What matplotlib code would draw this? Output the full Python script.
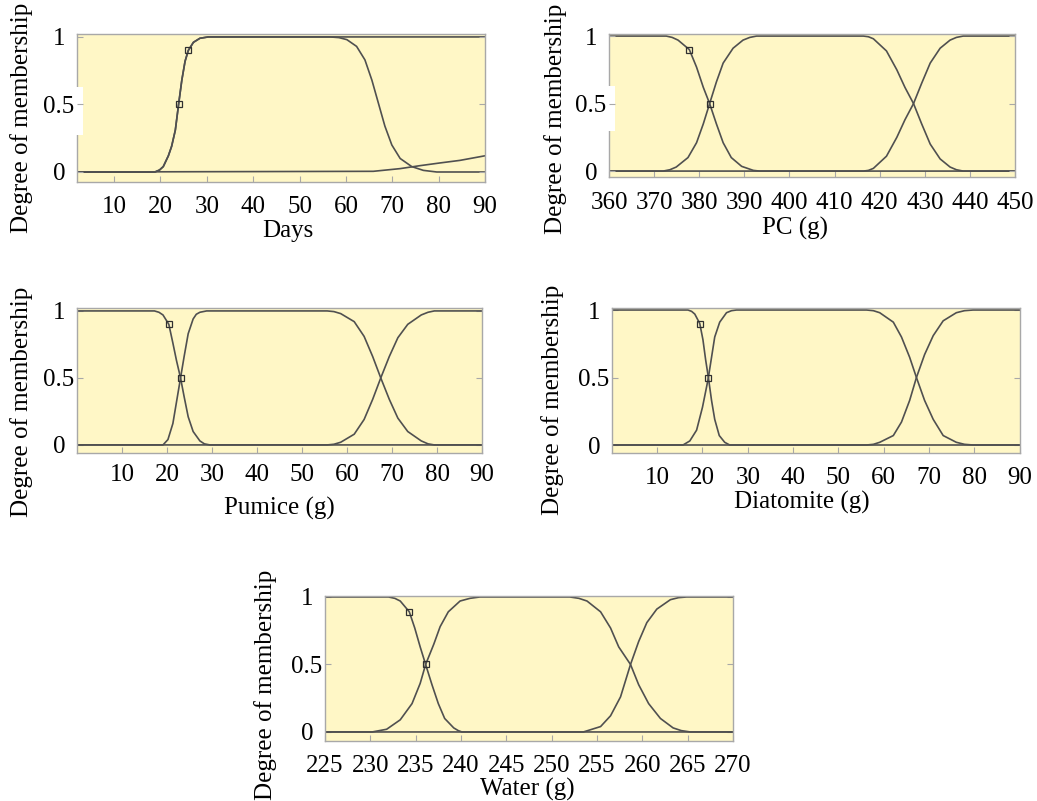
import matplotlib
matplotlib.use('Agg')
import matplotlib.pyplot as plt
from matplotlib.patches import Rectangle

plt.rcParams['font.family'] = ['Liberation Serif', 'DejaVu Serif']
plt.rcParams['font.size'] = 18

# ---- data (membership curves) ----
days_mf1_x = [2, 18.8, 19.8, 20.6, 21.7, 22.4, 23.2, 23.9, 24.6, 25.3, 26.0, 27.1, 28.5, 30.3, 90]
days_mf1_y = [0, 0, 0.015, 0.04, 0.12, 0.19, 0.31, 0.5, 0.68, 0.82, 0.9, 0.96, 0.99, 1, 1]
days_mf2_x = [2, 18.8, 19.8, 20.6, 21.7, 22.4, 23.2, 23.9, 24.6, 25.3, 26.0, 27.1, 28.5, 30.3,
              56.6, 58.5, 60.2, 62.3, 64.1, 65.6, 67.0, 68.4, 69.9, 71.7, 74.2, 76.7, 79.6, 90]
days_mf2_y = [0, 0, 0.015, 0.04, 0.12, 0.19, 0.31, 0.5, 0.68, 0.82, 0.9, 0.96, 0.99, 1,
              1, 0.995, 0.98, 0.93, 0.83, 0.68, 0.51, 0.34, 0.20, 0.10, 0.04, 0.012, 0, 0]
days_mf3_x = [2, 65.9, 71.7, 76.0, 80.3, 84.6, 90]
days_mf3_y = [0, 0.005, 0.025, 0.047, 0.067, 0.086, 0.12]
days_marks_x = [23.9, 26.0]
days_marks_y = [0.5, 0.9]

pc_mf1_x = [360, 372.7, 374.0, 375.3, 377.8, 379.4, 380.9, 382.3, 383.8, 385.3, 387.1, 389.4, 392.0, 393.4, 450]
pc_mf1_y = [1, 1, 0.99, 0.97, 0.9, 0.77, 0.62, 0.5, 0.35, 0.21, 0.10, 0.035, 0.005, 0, 0]
pc_mf2_x = [360, 372.0, 373.5, 374.9, 377.5, 379.4, 380.9, 382.3, 383.8, 385.3, 387.5, 389.7, 391.2, 392.7,
            416.4, 417.5, 418.6, 421.5, 423.8, 425.6, 427.5, 429.3, 431.2, 433.4, 435.6, 437.0, 438.5, 450]
pc_mf2_y = [0, 0, 0.01, 0.03, 0.10, 0.21, 0.35, 0.5, 0.66, 0.80, 0.91, 0.97, 0.99, 1,
            1, 0.995, 0.98, 0.89, 0.75, 0.62, 0.5, 0.35, 0.20, 0.09, 0.03, 0.01, 0, 0]
pc_mf3_x = [360, 416.4, 417.5, 418.6, 421.5, 423.8, 425.6, 427.5, 429.3, 431.2, 433.4, 435.6, 437.0, 438.5, 450]
pc_mf3_y = [0, 0, 0.005, 0.02, 0.11, 0.25, 0.38, 0.5, 0.65, 0.80, 0.91, 0.97, 0.99, 1, 1]
pc_marks_x = [377.8, 382.3]
pc_marks_y = [0.9, 0.5]

pum_mf1_x = [0, 17.2, 18.2, 19.1, 20.4, 21.3, 22.1, 23.0, 23.8, 24.7, 25.8, 27.3, 28.3, 29.5, 90]
pum_mf1_y = [1, 1, 0.99, 0.97, 0.9, 0.76, 0.63, 0.5, 0.36, 0.21, 0.10, 0.03, 0.008, 0, 0]
pum_mf2_x = [0, 19.1, 20.2, 21.3, 22.3, 23.0, 23.8, 24.7, 25.8, 26.5, 27.3, 28.8,
             55.6, 57.1, 58.6, 61.6, 63.8, 65.7, 67.5, 69.4, 71.3, 73.5, 76.5, 78.0, 79.4, 90]
pum_mf2_y = [0, 0, 0.04, 0.16, 0.36, 0.5, 0.66, 0.83, 0.94, 0.975, 0.99, 1,
             1, 0.995, 0.98, 0.92, 0.81, 0.66, 0.5, 0.34, 0.20, 0.10, 0.03, 0.008, 0, 0]
pum_mf3_x = [0, 55.6, 57.1, 58.6, 61.6, 63.8, 65.7, 67.5, 69.4, 71.3, 73.5, 76.5, 78.0, 79.4, 90]
pum_mf3_y = [0, 0, 0.005, 0.02, 0.08, 0.19, 0.34, 0.5, 0.66, 0.80, 0.90, 0.97, 0.99, 1, 1]
pum_marks_x = [20.4, 23.0]
pum_marks_y = [0.9, 0.5]

dia_mf1_x = [0, 16.8, 17.6, 18.3, 19.4, 20.1, 20.7, 21.3, 22.0, 22.7, 23.7, 24.9, 26.0, 90]
dia_mf1_y = [1, 1, 0.99, 0.97, 0.9, 0.78, 0.63, 0.5, 0.33, 0.19, 0.07, 0.02, 0, 0]
dia_mf2_x = [0, 15.7, 17.2, 18.7, 20.0, 20.9, 21.3, 22.0, 22.7, 23.8, 25.3, 26.4, 27.5,
             56.2, 57.7, 59.1, 62.1, 63.9, 65.7, 67.2, 69.0, 70.9, 73.1, 76.0, 77.8, 79.7, 90]
dia_mf2_y = [0, 0, 0.03, 0.11, 0.28, 0.43, 0.5, 0.65, 0.80, 0.91, 0.98, 0.995, 1,
             1, 0.995, 0.98, 0.91, 0.80, 0.65, 0.5, 0.33, 0.19, 0.07, 0.02, 0.005, 0, 0]
dia_mf3_x = [0, 56.2, 57.7, 59.1, 62.1, 63.9, 65.7, 67.2, 69.0, 70.9, 73.1, 76.0, 77.8, 79.7, 90]
dia_mf3_y = [0, 0, 0.005, 0.02, 0.07, 0.17, 0.33, 0.5, 0.67, 0.81, 0.92, 0.98, 0.995, 1, 1]
dia_marks_x = [19.4, 21.3]
dia_marks_y = [0.9, 0.5]

wat_mf1_x = [225, 232.0, 232.7, 233.3, 234.3, 234.9, 235.5, 236.1, 236.8, 237.5, 238.2, 239.2, 239.7, 240.1, 270]
wat_mf1_y = [1, 1, 0.99, 0.97, 0.89, 0.77, 0.63, 0.5, 0.35, 0.21, 0.10, 0.03, 0.01, 0, 0]
wat_mf2_x = [225, 230.2, 231.8, 233.3, 234.6, 235.5, 236.1, 237.0, 237.7, 238.6, 239.9, 241.0, 242.1,
             252.0, 253.0, 253.9, 255.4, 256.5, 257.4, 258.7, 259.6, 260.7, 262.0, 263.4, 264.3, 265.3, 270]
wat_mf2_y = [0, 0, 0.02, 0.09, 0.21, 0.36, 0.5, 0.65, 0.78, 0.89, 0.97, 0.99, 1,
             1, 0.99, 0.97, 0.89, 0.77, 0.63, 0.5, 0.35, 0.21, 0.10, 0.03, 0.01, 0, 0]
wat_mf3_x = [225, 253.5, 255.4, 256.5, 257.6, 258.7, 259.6, 260.5, 261.6, 263.1, 264.0, 264.9, 270]
wat_mf3_y = [0, 0, 0.04, 0.12, 0.26, 0.5, 0.67, 0.81, 0.91, 0.98, 0.995, 1, 1]
wat_marks_x = [234.3, 236.1]
wat_marks_y = [0.89, 0.5]

days_ticks = [10, 20, 30, 40, 50, 60, 70, 80, 90]
pc_ticks = [360, 370, 380, 390, 400, 410, 420, 430, 440, 450]
gram_ticks = [10, 20, 30, 40, 50, 60, 70, 80, 90]
wat_ticks = [225, 230, 235, 240, 245, 250, 255, 260, 265, 270]
y_ticks = [0, 0.5, 1]
y_labels = ['0', '0.5', '1']

bg = '#fff7c6'
curve_col = '#505050'
spine_col = '#a8a8a8'

fig = plt.figure(figsize=(10.37, 8.01), dpi=100)

# panel: rect, xlim, ylim, xticks, xlabel, tick pad, xlabel pos, ylabel pos
panels = [
    ([0.0743, 0.7728, 0.3934, 0.1848], (2, 90), (-0.074, 1.022), days_ticks, 'Days', 10,
     (0.517, -0.33), (-0.135, 0.43),
     [(days_mf1_x, days_mf1_y), (days_mf2_x, days_mf2_y), (days_mf3_x, days_mf3_y)],
     (days_marks_x, days_marks_y)),
    ([0.5873, 0.7790, 0.3915, 0.1785], (360, 450), (-0.044, 1.015), pc_ticks, 'PC (g)', 11,
     (0.458, -0.36), (-0.133, 0.41),
     [(pc_mf1_x, pc_mf1_y), (pc_mf2_x, pc_mf2_y), (pc_mf3_x, pc_mf3_y)],
     (pc_marks_x, pc_marks_y)),
    ([0.0743, 0.4345, 0.3905, 0.1810], (0, 90), (-0.06, 1.022), gram_ticks, 'Pumice (g)', 8,
     (0.50, -0.38), (-0.138, 0.35),
     [(pum_mf1_x, pum_mf1_y), (pum_mf2_x, pum_mf2_y), (pum_mf3_x, pum_mf3_y)],
     (pum_marks_x, pum_marks_y)),
    ([0.5900, 0.4345, 0.3934, 0.1810], (0, 90), (-0.059, 1.015), gram_ticks, 'Diatomite (g)', 10,
     (0.466, -0.34), (-0.145, 0.366),
     [(dia_mf1_x, dia_mf1_y), (dia_mf2_x, dia_mf2_y), (dia_mf3_x, dia_mf3_y)],
     (dia_marks_x, dia_marks_y)),
    ([0.3134, 0.0749, 0.3934, 0.1810], (225, 270), (-0.067, 1.007), wat_ticks, 'Water (g)', 10,
     (0.495, -0.335), (-0.145, 0.386),
     [(wat_mf1_x, wat_mf1_y), (wat_mf2_x, wat_mf2_y), (wat_mf3_x, wat_mf3_y)],
     (wat_marks_x, wat_marks_y)),
]

for i, (rect, xl, yl, xt, xlab, pad, xlpos, ylpos, curves, marks) in enumerate(panels):
    ax = fig.add_axes(rect)
    ax.set_facecolor(bg)
    for cx, cy in curves:
        ax.plot(cx, cy, color=curve_col, lw=1.2, solid_joinstyle='round')
    ax.plot(marks[0], marks[1], ls='none', marker='s', ms=4.5, mfc='none',
            mec='#303030', mew=0.9)
    ax.set_xlim(*xl)
    ax.set_ylim(*yl)
    ax.set_xticks(xt)
    ax.set_yticks(y_ticks)
    ax.set_yticklabels(y_labels, ha='center')
    ax.tick_params(axis='x', direction='in', length=4, color=spine_col, pad=pad)
    ax.tick_params(axis='y', direction='in', length=4, color=spine_col, pad=13,
                   left=True, right=True)
    for s in ax.spines.values():
        s.set_color(spine_col)
        s.set_linewidth(1.0)
    ax.set_xlabel(xlab)
    ax.xaxis.set_label_coords(*xlpos)
    ax.xaxis.label.set_va('center')
    ax.set_ylabel('Degree of membership')
    ax.yaxis.set_label_coords(*ylpos)
    ax.yaxis.label.set_va('center')
    if i < 2:
        # white patch behind the 0.5 label (as in the source image)
        ax.add_patch(Rectangle((-0.11, 0.32), 0.125, 0.32, transform=ax.transAxes,
                               facecolor='white', edgecolor='none', clip_on=False, zorder=5))
        ax.yaxis.set_zorder(6)

fig.savefig('out.png', dpi=100)
